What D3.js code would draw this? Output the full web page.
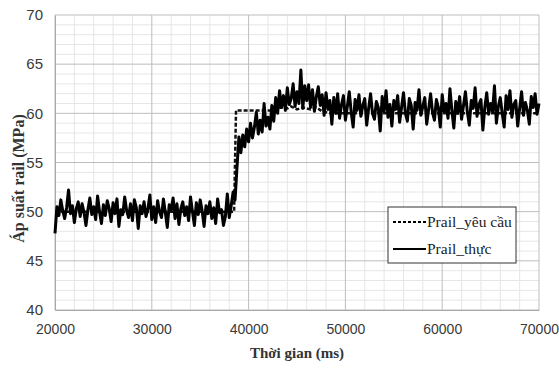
<!DOCTYPE html>
<html>
<head>
<meta charset="utf-8">
<script src="https://cdn.jsdelivr.net/npm/d3@7"></script>
<style>
  body { margin: 0; background: #fff; }
  svg { display: block; }
</style>
</head>
<body>
<div id="chart"></div>
<script>
// sample time step (ms) of the measured series, starting at 20000
const tStart = 20000;
const tStep = 200;

// Prail_thực, one value per 200 ms from 20000 to 70000
const actualValues = [
  47.8, 50.5, 49.6, 51.2, 50.1, 49.3, 50.4, 52.2, 49.8, 50.6,
  48.9, 50.3, 51.0, 49.5, 50.8, 49.9, 48.6, 50.2, 51.4, 49.7,
  50.5, 49.2, 51.6, 50.0, 48.8, 50.7, 49.6, 51.1, 50.3, 49.0,
  50.9, 49.8, 51.3, 48.5, 50.2, 49.7, 51.5, 50.1, 49.4, 50.8,
  49.1, 51.2, 50.4, 48.3, 50.6, 49.8, 51.0, 49.5, 50.3, 51.7,
  49.2, 50.5, 48.9, 51.1, 50.0, 49.4, 51.3, 49.9, 48.4, 50.7,
  50.2, 51.4, 49.3, 50.8, 48.7, 50.3, 51.0, 49.6, 50.5, 49.1,
  51.5, 50.0, 48.6, 50.9, 49.7, 51.2, 50.1, 48.5, 50.6, 49.8,
  51.0, 49.3, 50.4, 48.8, 51.3, 49.9, 50.2, 48.6, 49.5, 51.8,
  49.4, 50.6, 52.0, 51.2, 54.5, 57.6, 56.0, 57.8, 56.6, 58.4,
  57.1, 59.0, 57.5, 58.6, 60.1, 57.9, 59.3, 58.1, 61.0, 58.7,
  59.6, 58.4, 60.8, 59.2, 61.6, 60.0, 62.3, 60.6, 61.8, 60.3,
  62.6, 60.9, 61.5, 63.0, 60.7, 62.2, 61.0, 64.4, 60.5, 62.8,
  61.3, 62.9, 60.6, 62.4, 60.2, 61.7, 62.7, 60.8, 61.9, 59.8,
  62.1, 60.4, 61.3, 58.9, 61.6, 60.0, 62.0, 59.5, 60.9, 61.8,
  59.3, 60.7, 62.2, 60.1, 58.6, 61.4, 60.3, 61.9, 59.7, 60.8,
  61.5, 58.8, 60.5, 62.0, 60.0, 59.4, 61.2, 60.6, 58.2, 61.7,
  60.2, 62.3, 59.6, 60.9, 58.7, 61.3, 60.4, 61.8, 59.1, 60.6,
  62.1, 60.0, 59.2, 61.5, 60.8, 58.4, 61.1, 60.3, 62.4, 59.8,
  60.7, 61.6, 58.9, 60.4, 62.0, 60.1, 59.3, 61.4, 60.6, 58.6,
  61.9, 60.2, 61.0, 59.5, 62.5, 60.3, 58.5, 61.2, 60.0, 61.7,
  59.4, 60.8, 62.2, 60.1, 58.8, 61.3, 60.5, 62.6, 59.7, 60.9,
  61.4, 58.3, 60.6, 62.1, 59.9, 61.0, 60.2, 62.8, 59.0, 60.7,
  61.6, 60.0, 58.6, 61.8, 60.4, 62.3, 59.6, 60.9, 61.3, 58.7,
  60.5, 62.2, 59.8, 61.1, 60.3, 58.9, 61.7, 60.6, 62.0, 59.9,
  61.0
];

// Prail_yêu cầu, break points [time ms, MPa]
const demandTimes = [20000, 38500, 38700, 42800, 43200, 44000, 44400, 45000, 45600, 46400, 47000, 47600, 48500, 70000];
const demandValues = [50.0, 50.0, 60.3, 60.3, 60.6, 60.5, 60.7, 60.4, 60.6, 60.4, 60.6, 60.2, 60.0, 60.0];

const xTicks = [20000, 30000, 40000, 50000, 60000, 70000];
const yTicks = [40, 45, 50, 55, 60, 65, 70];
const legendLabels = ['Prail_yêu cầu', 'Prail_thực'];

const width = 559;
const height = 369;
const margin = { top: 15, right: 20, bottom: 59, left: 55 };

const svg = d3.select('#chart')
  .append('svg')
  .attr('width', width)
  .attr('height', height);

const x = d3.scaleLinear().domain([20000, 70000]).range([margin.left, width - margin.right]);
const y = d3.scaleLinear().domain([40, 70]).range([height - margin.bottom, margin.top]);

// minor grid
const minorX = d3.range(20000, 70001, 2000).filter((d) => d % 10000 !== 0);
const minorY = d3.range(40, 70.01, 1).filter((d) => d % 5 !== 0);
const grid = svg.append('g');
grid.selectAll('line.mx')
  .data(minorX)
  .join('line')
  .attr('x1', (d) => x(d)).attr('x2', (d) => x(d))
  .attr('y1', y(40)).attr('y2', y(70))
  .attr('stroke', '#e6e6e6').attr('stroke-width', 1);
grid.selectAll('line.my')
  .data(minorY)
  .join('line')
  .attr('x1', x(20000)).attr('x2', x(70000))
  .attr('y1', (d) => y(d)).attr('y2', (d) => y(d))
  .attr('stroke', '#e6e6e6').attr('stroke-width', 1);

// major grid
grid.selectAll('line.gx')
  .data(xTicks)
  .join('line')
  .attr('x1', (d) => x(d)).attr('x2', (d) => x(d))
  .attr('y1', y(40)).attr('y2', y(70))
  .attr('stroke', '#bdbdbd').attr('stroke-width', 1);
grid.selectAll('line.gy')
  .data(yTicks)
  .join('line')
  .attr('x1', x(20000)).attr('x2', x(70000))
  .attr('y1', (d) => y(d)).attr('y2', (d) => y(d))
  .attr('stroke', '#bdbdbd').attr('stroke-width', 1);

// axes, labels only
const xAxis = svg.append('g')
  .attr('transform', `translate(0,${y(40)})`)
  .call(d3.axisBottom(x).tickValues(xTicks).tickSize(0).tickPadding(14).tickFormat(d3.format('d')));
xAxis.select('.domain').attr('stroke', '#a8a8a8');
xAxis.selectAll('text')
  .style('font-family', '"Liberation Sans", Arial, sans-serif')
  .style('font-size', '14px')
  .attr('fill', '#3a3a3a');

const yAxis = svg.append('g')
  .attr('transform', `translate(${x(20000)},0)`)
  .call(d3.axisLeft(y).tickValues(yTicks).tickSize(0).tickPadding(12));
yAxis.select('.domain').attr('stroke', '#a8a8a8');
yAxis.selectAll('text')
  .style('font-family', '"Liberation Sans", Arial, sans-serif')
  .style('font-size', '15px')
  .attr('fill', '#3a3a3a');

// series
const actual = actualValues.map((v, i) => [tStart + i * tStep, v]);
const demand = demandTimes.map((t, i) => [t, demandValues[i]]);
const line = d3.line().x((d) => x(d[0])).y((d) => y(d[1]));

svg.append('path')
  .datum(demand)
  .attr('d', line)
  .attr('fill', 'none')
  .attr('stroke', '#111')
  .attr('stroke-width', 2.5)
  .attr('stroke-dasharray', '4,2');

svg.append('path')
  .datum(actual)
  .attr('d', line)
  .attr('fill', 'none')
  .attr('stroke', '#000')
  .attr('stroke-width', 3)
  .attr('stroke-linejoin', 'round');

// legend
const legend = svg.append('g').attr('transform', 'translate(388,207)');
legend.append('rect')
  .attr('width', 128).attr('height', 56)
  .attr('fill', '#fff').attr('stroke', '#333').attr('stroke-width', 1);
legendLabels.forEach((label, i) => {
  const ly = 15 + i * 27;
  legend.append('line')
    .attr('x1', 5).attr('x2', 38).attr('y1', ly).attr('y2', ly)
    .attr('stroke', '#000')
    .attr('stroke-width', 2.2)
    .attr('stroke-dasharray', i === 0 ? '3,2' : null);
  legend.append('text')
    .attr('x', 39).attr('y', ly + 5)
    .style('font-family', '"Liberation Serif", "Times New Roman", serif')
    .style('font-size', '15.5px')
    .attr('fill', '#222')
    .text(label);
});

// axis titles
svg.append('text')
  .attr('x', (x(20000) + x(70000)) / 2).attr('y', 358)
  .attr('text-anchor', 'middle')
  .style('font-family', '"Liberation Serif", "Times New Roman", serif')
  .style('font-size', '15px')
  .style('font-weight', 'bold')
  .attr('fill', '#333')
  .text('Thời gian (ms)');

svg.append('text')
  .attr('transform', `translate(24,${(y(40) + y(70)) / 2 + 16}) rotate(-90)`)
  .attr('text-anchor', 'middle')
  .style('font-family', '"Liberation Serif", "Times New Roman", serif')
  .style('font-size', '16px')
  .style('font-weight', 'bold')
  .attr('fill', '#333')
  .text('Áp suất rail (MPa)');
</script>
</body>
</html>
